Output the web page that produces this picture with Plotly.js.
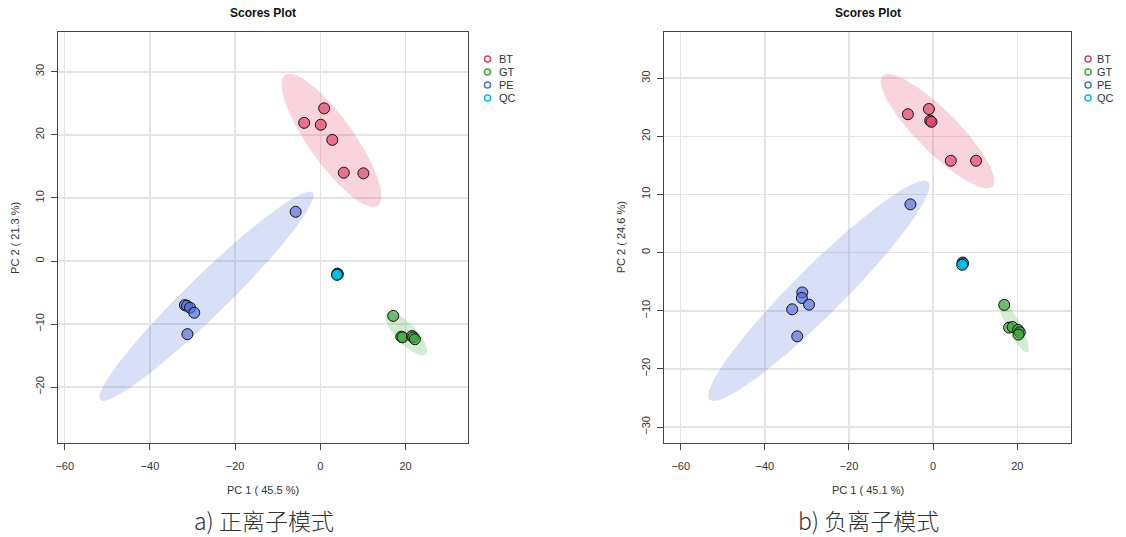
<!DOCTYPE html>
<html><head><meta charset="utf-8">
<script src="https://cdn.plot.ly/plotly-3.0.1.min.js"></script>
<style>html,body{margin:0;padding:0;background:#fff}#chart{width:1126px;height:537px}</style>
</head><body><div id="chart"></div>
<script>
// ---------- data ----------
const groups = ['BT', 'GT', 'PE', 'QC'];

// a) positive ion mode
const posBT_pc1 = [0.9, -3.8, 0.1, 2.8, 5.5, 10.1];
const posBT_pc2 = [24.2, 21.9, 21.6, 19.2, 14.0, 13.9];
const posGT_pc1 = [17.1, 19.0, 19.3, 21.5, 21.8, 22.2];
const posGT_pc2 = [-8.7, -12.0, -12.1, -11.9, -12.1, -12.4];
const posPE_pc1 = [-5.8, -31.8, -31.3, -30.6, -29.6, -31.2];
const posPE_pc2 = [7.8, -7.0, -7.1, -7.4, -8.2, -11.6];
const posQC_pc1 = [4.0, 4.1, 3.9];
const posQC_pc2 = [-2.0, -2.1, -2.2];

// b) negative ion mode
const negBT_pc1 = [-6.0, -1.0, -0.7, -0.4, 4.2, 10.2];
const negBT_pc2 = [23.8, 24.7, 22.7, 22.5, 15.8, 15.8];
const negGT_pc1 = [16.9, 18.05, 18.9, 20.2, 20.6, 20.3];
const negGT_pc2 = [-9.0, -12.9, -12.8, -13.3, -13.7, -14.1];
const negPE_pc1 = [-5.4, -31.1, -31.2, -29.5, -33.5, -32.3];
const negPE_pc2 = [8.3, -6.85, -7.8, -8.95, -9.75, -14.4];
const negQC_pc1 = [7.0, 7.1, 6.9];
const negQC_pc2 = [-1.7, -1.9, -2.1];

const xTitles = ['PC 1 ( 45.5 %)', 'PC 1 ( 45.1 %)'];
const yTitles = ['PC 2 ( 21.3 %)', 'PC 2 ( 24.6 %)'];
const plotTitle = 'Scores Plot';
const captions = ['a) 正离子模式', 'b) 负离子模式'];

// ---------- styles ----------
const rgb = {BT: [226, 60, 95], GT: [60, 170, 60], PE: [80, 110, 220], QC: [0, 190, 230]};
const col = (g, a) => `rgba(${rgb[g][0]},${rgb[g][1]},${rgb[g][2]},${a})`;
const ptAlpha = {BT: 0.65, GT: 0.7, PE: 0.65, QC: 0.8};
const W = 1126, H = 537;
const px = v => v / W, py = v => 1 - v / H;
const FONT = 'Liberation Sans, Arial, sans-serif';

const panels = [
  {data: {BT: [posBT_pc1, posBT_pc2], GT: [posGT_pc1, posGT_pc2], PE: [posPE_pc1, posPE_pc2], QC: [posQC_pc1, posQC_pc2]},
   box: [57.9, 468.2], xr: [-61.6, 34.7], yr: [-28.9, 36.35], leg: 487.5},
  {data: {BT: [negBT_pc1, negBT_pc2], GT: [negGT_pc1, negGT_pc2], PE: [negPE_pc1, negPE_pc2], QC: [negQC_pc1, negQC_pc2]},
   box: [664.3, 1070.7], xr: [-63.9, 32.7], yr: [-32.8, 38.0], leg: 1090.5}
];
const boxTop = 31.7, boxBot = 443.3;

// 95% confidence ellipse, as in R's ellipse::ellipse(cov, centre, level = 0.95)
function ellipse(xs, ys, n) {
  const m = xs.length;
  const mx = xs.reduce((a, b) => a + b, 0) / m, my = ys.reduce((a, b) => a + b, 0) / m;
  let sxx = 0, syy = 0, sxy = 0;
  for (let i = 0; i < m; i++) {
    sxx += (xs[i] - mx) ** 2; syy += (ys[i] - my) ** 2; sxy += (xs[i] - mx) * (ys[i] - my);
  }
  sxx /= (m - 1); syy /= (m - 1); sxy /= (m - 1);
  const sx = Math.sqrt(sxx), sy = Math.sqrt(syy);
  let r = sxy / (sx * sy); r = Math.max(-1, Math.min(1, r));
  const d = Math.acos(r), t = Math.sqrt(5.991464547);
  const ex = [], ey = [];
  for (let k = 0; k <= n; k++) {
    const a = 2 * Math.PI * k / n;
    ex.push(t * sx * Math.cos(a + d / 2) + mx);
    ey.push(t * sy * Math.cos(a - d / 2) + my);
  }
  return [ex, ey];
}

const traces = [];
const annotations = [];
const layout = {
  width: W, height: H, margin: {l: 0, r: 0, t: 0, b: 0},
  paper_bgcolor: '#fff', plot_bgcolor: '#fff', showlegend: false,
  font: {family: FONT, size: 11, color: '#333'},
  annotations: annotations
};

panels.forEach((p, i) => {
  const n = i + 1, sfx = n === 1 ? '' : String(n);
  const xa = 'x' + sfx, ya = 'y' + sfx;
  // ellipses
  groups.forEach(g => {
    const [ex, ey] = ellipse(p.data[g][0], p.data[g][1], 100);
    traces.push({type: 'scatter', mode: 'lines', x: ex, y: ey, xaxis: xa, yaxis: ya,
      fill: 'toself', fillcolor: col(g, 0.22), line: {width: 0}, hoverinfo: 'skip'});
  });
  // points
  groups.forEach(g => {
    traces.push({type: 'scatter', mode: 'markers', name: g, x: p.data[g][0], y: p.data[g][1],
      xaxis: xa, yaxis: ya,
      marker: {size: 11, color: col(g, ptAlpha[g]), line: {color: '#111', width: 1}}});
  });
  const axCommon = {showline: true, mirror: true, linecolor: '#444', linewidth: 1,
    ticks: 'outside', ticklen: 6, tickcolor: '#444', tickwidth: 1,
    showgrid: true, gridcolor: '#e4e4e4', gridwidth: 1.5, zeroline: false,
    tickfont: {family: FONT, size: 11, color: '#333'}, fixedrange: true};
  layout['xaxis' + sfx] = Object.assign({}, axCommon, {
    domain: [px(p.box[0]), px(p.box[1])], range: p.xr, tick0: 0, dtick: 20, anchor: ya,
    ticklabelstandoff: 6});
  layout['yaxis' + sfx] = Object.assign({}, axCommon, {
    domain: [py(boxBot), py(boxTop)], range: p.yr, tick0: 0, dtick: 10, anchor: xa,
    tickangle: -90, ticklabelstandoff: 3});
  const cx = (p.box[0] + p.box[1]) / 2;
  annotations.push({xref: 'paper', yref: 'paper', x: px(cx), y: py(13), text: '<b>' + plotTitle + '</b>',
    showarrow: false, xanchor: 'center', yanchor: 'middle', font: {family: FONT, size: 12, color: '#111'}});
  annotations.push({xref: 'paper', yref: 'paper', x: px(cx), y: py(490), text: xTitles[i],
    showarrow: false, xanchor: 'center', yanchor: 'middle', font: {family: FONT, size: 11, color: '#333'}});
  annotations.push({xref: 'paper', yref: 'paper', x: px(p.box[0] - 43.5), y: py((boxTop + boxBot) / 2), text: yTitles[i],
    textangle: -90, showarrow: false, xanchor: 'center', yanchor: 'middle', font: {family: FONT, size: 11, color: '#333'}});
  annotations.push({xref: 'paper', yref: 'paper', x: px(cx + 1), y: py(519.5), text: captions[i],
    showarrow: false, xanchor: 'center', yanchor: 'middle',
    font: {family: 'Noto Sans CJK SC, sans-serif', size: 23, weight: 300, color: '#333'}});

  // manual legend (compact, open circles)
  const ln = n + 2;
  layout['xaxis' + ln] = {domain: [px(p.leg - 10), px(p.leg + 50)], range: [-10, 50], visible: false, fixedrange: true, anchor: 'y' + ln};
  layout['yaxis' + ln] = {domain: [py(104.5), py(52.5)], range: [3.5, -0.5], visible: false, fixedrange: true, anchor: 'x' + ln};
  const idx = groups.map((g, k) => k);
  traces.push({type: 'scatter', mode: 'markers', x: groups.map(() => 0), y: idx,
    xaxis: 'x' + ln, yaxis: 'y' + ln, hoverinfo: 'skip',
    marker: {symbol: 'circle-open', size: 6, color: groups.map(g => col(g, 1)), line: {width: 1.5}}});
  groups.forEach((g, k) => {
    annotations.push({xref: 'x' + ln, yref: 'y' + ln, x: 9.5, y: k, text: g, showarrow: false,
      xanchor: 'left', yanchor: 'middle', font: {family: FONT, size: 11, color: '#333'}});
  });
});

Plotly.newPlot('chart', traces, layout, {displayModeBar: false, staticPlot: true});
</script>
</body></html>
